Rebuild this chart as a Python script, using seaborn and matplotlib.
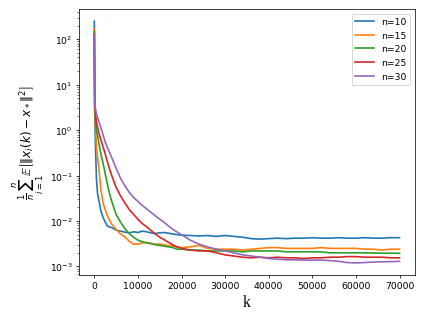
import numpy as np
import pandas as pd
import seaborn as sns
import matplotlib
matplotlib.use("Agg")
import matplotlib.pyplot as plt

# iteration grid
k = [0, 100, 250, 500, 750, 1000, 1500, 2000, 2500, 3000, 3500, 4000,
     5000, 6000, 7000, 8000, 9000, 10000, 11000, 12000, 13000, 14000, 15000,
     16000, 17000, 18000, 19000, 20000, 22000, 24000, 26000, 28000, 30000,
     32000, 34000, 36000, 38000, 40000, 42000, 44000, 46000, 48000, 50000,
     52000, 54000, 56000, 58000, 60000, 62000, 64000, 66000, 68000, 70000]

labels = ["n=10", "n=15", "n=20", "n=25", "n=30"]

err_n10 = [250, 2.5, 0.5, 0.08, 0.04, 0.03, 0.017, 0.012, 0.0095, 0.0078, 0.0074, 0.0072,
           0.0063, 0.0060, 0.0057, 0.0055, 0.0058, 0.0056, 0.0060, 0.0058, 0.0055, 0.0053, 0.0055,
           0.0056, 0.0054, 0.0052, 0.0050, 0.0049, 0.0048, 0.0047, 0.0048, 0.0046, 0.0048,
           0.0046, 0.0044, 0.0041, 0.0040, 0.0041, 0.0042, 0.0041, 0.0042, 0.0042, 0.0043,
           0.0042, 0.0042, 0.0043, 0.0042, 0.0042, 0.0043, 0.0042, 0.0042, 0.0043, 0.0043]

err_n15 = [170, 3.0, 1.2, 0.45, 0.26, 0.16, 0.05, 0.025, 0.018, 0.013, 0.0105, 0.0085,
           0.0066, 0.0052, 0.0045, 0.0036, 0.0031, 0.0031, 0.0033, 0.0034, 0.0032, 0.0031, 0.0031,
           0.0030, 0.0029, 0.0028, 0.0027, 0.0026, 0.0027, 0.0029, 0.0025, 0.0024, 0.0024,
           0.0024, 0.0023, 0.0024, 0.0025, 0.0026, 0.0026, 0.0025, 0.0025, 0.0025, 0.0025,
           0.0026, 0.0025, 0.0025, 0.0025, 0.0025, 0.0024, 0.0024, 0.0023, 0.0024, 0.0024]

err_n20 = [150, 3.3, 1.8, 1.0, 0.75, 0.55, 0.3, 0.19, 0.11, 0.065, 0.04, 0.027,
           0.014, 0.0095, 0.0068, 0.0053, 0.0044, 0.0038, 0.0035, 0.0033, 0.0032, 0.0030, 0.0029,
           0.0028, 0.0027, 0.0026, 0.0024, 0.0024, 0.0023, 0.0023, 0.0022, 0.0022, 0.0022,
           0.0022, 0.0021, 0.0022, 0.0022, 0.0022, 0.0022, 0.0021, 0.0021, 0.0021, 0.0021,
           0.0021, 0.0020, 0.0020, 0.0020, 0.0020, 0.0020, 0.00198, 0.00196, 0.00196, 0.00195]

err_n25 = [128, 3.5, 2.3, 1.5, 1.15, 0.9, 0.62, 0.43, 0.3, 0.2, 0.14, 0.1,
           0.055, 0.036, 0.025, 0.018, 0.014, 0.011, 0.0088, 0.0075, 0.0062, 0.0052, 0.0044,
           0.0039, 0.0034, 0.0030, 0.0027, 0.0025, 0.0023, 0.0022, 0.0022, 0.0020, 0.0018,
           0.0017, 0.0016, 0.00155, 0.0016, 0.00155, 0.0016, 0.00155, 0.00155, 0.0015, 0.00155,
           0.00155, 0.0016, 0.0016, 0.00165, 0.00165, 0.0016, 0.0016, 0.0016, 0.00155, 0.00155]

err_n30 = [120, 4.0, 3.0, 2.3, 1.9, 1.6, 1.15, 0.8, 0.55, 0.42, 0.32, 0.25,
           0.145, 0.088, 0.06, 0.043, 0.033, 0.027, 0.022, 0.0185, 0.0155, 0.013, 0.011,
           0.0094, 0.0078, 0.0066, 0.0057, 0.0050, 0.0038, 0.0031, 0.0027, 0.0024, 0.0022,
           0.0020, 0.0018, 0.0017, 0.0016, 0.0015, 0.00145, 0.0014, 0.0014, 0.00138, 0.00138,
           0.00138, 0.00135, 0.0013, 0.00122, 0.0012, 0.00122, 0.00125, 0.00127, 0.00128, 0.0013]

series = [err_n10, err_n15, err_n20, err_n25, err_n30]

df = pd.concat([pd.DataFrame({"k": k, "err": s, "n": lab})
                for s, lab in zip(series, labels)], ignore_index=True)

fig, ax = plt.subplots(figsize=(6.4, 4.8), dpi=100)
sns.lineplot(data=df, x="k", y="err", hue="n", palette="tab10",
             estimator=None, sort=False, linewidth=1.8, ax=ax)
ax.set_yscale("log")
ax.set_xticks([0, 10000, 20000, 30000, 40000, 50000, 60000, 70000])
ax.set_xlabel("k", fontsize=17, family="Liberation Serif")
ax.set_ylabel(r"$\frac{1}{n}\sum_{i=1}^{n}\mathbb{E}\left[\|x_i(k)-x_*\|^2\right]$", fontsize=13)
ax.legend(loc="upper right")

fig.subplots_adjust(left=0.186, right=0.976, top=0.969, bottom=0.135)
fig.savefig("out.png", dpi=425 / 6.4)
plt.close(fig)
